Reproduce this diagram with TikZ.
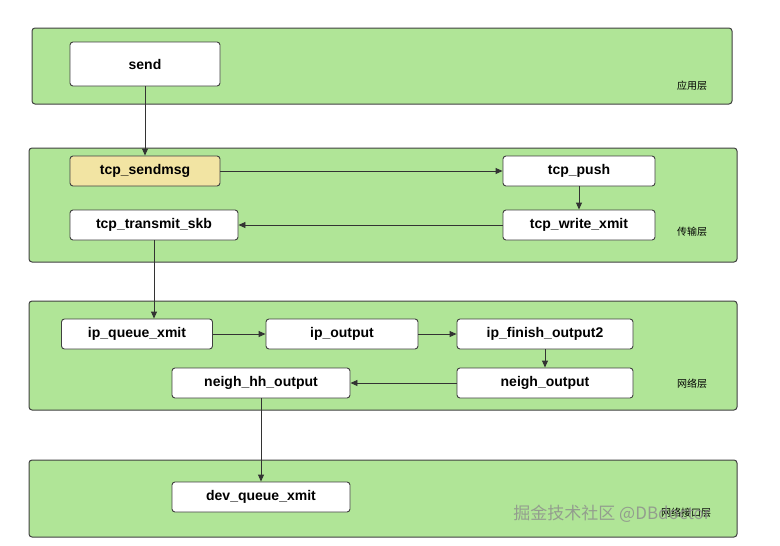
\documentclass[tikz,border=0pt]{standalone}
\usepackage{fontspec}
\setmainfont{Liberation Sans}
\newfontfamily\cjk{Noto Sans CJK SC}
\usetikzlibrary{arrows.meta}
\definecolor{layergreen}{HTML}{B0E597}
\definecolor{hiyellow}{HTML}{F2E4A3}
\begin{document}
\begin{tikzpicture}[x=1pt,y=-1pt,>={Triangle[length=7pt,width=6pt]},
                    layer/.style={draw=black!75,fill=layergreen,rounded corners=3pt,line width=1pt},
                    func/.style={draw=black!75,fill=white,rounded corners=3pt,line width=0.9pt,
                                 minimum height=30pt,font=\bfseries\fontsize{14}{16}\selectfont,inner sep=0pt},
                    tag/.style={font=\cjk\fontsize{10}{12}\selectfont},
                    flow/.style={->,draw=black!80,line width=0.9pt}]
  \useasboundingbox (0,0) rectangle (780,546);

  % layers
  \draw[layer] (32,28) rectangle (732,104);
  \draw[layer] (29,148) rectangle (737,262);
  \draw[layer] (29,301) rectangle (737,410);
  \draw[layer] (29,460) rectangle (737,537);
  \node[tag] (app)  at (692,86)  {应用层};
  \node[tag] (tran) at (692,232) {传输层};
  \node[tag] (net)  at (692,384) {网络层};
  \node[tag] (link) at (686,513) {网络接口层};

  % functions
  \node[func,minimum width=150pt,minimum height=44pt] (send) at (145,64) {send};
  \node[func,minimum width=150pt,fill=hiyellow] (sendmsg) at (145,171) {tcp\_sendmsg};
  \node[func,minimum width=152pt] (push)     at (579,171) {tcp\_push};
  \node[func,minimum width=152pt] (xmit)     at (579,225) {tcp\_write\_xmit};
  \node[func,minimum width=168pt] (transmit) at (154,225) {tcp\_transmit\_skb};
  \node[func,minimum width=151pt] (queue)    at (137,334) {ip\_queue\_xmit};
  \node[func,minimum width=152pt] (output)   at (342,334) {ip\_output};
  \node[func,minimum width=176pt] (finish)   at (545,334) {ip\_finish\_output2};
  \node[func,minimum width=176pt] (neigh)    at (545,383) {neigh\_output};
  \node[func,minimum width=178pt] (hh)       at (261,383) {neigh\_hh\_output};
  \node[func,minimum width=178pt] (dev)      at (261,497) {dev\_queue\_xmit};

  % calls
  \draw[flow] (send) -- (sendmsg);
  \draw[flow] (sendmsg) -- (push);
  \draw[flow] (push) -- (xmit);
  \draw[flow] (xmit) -- (transmit);
  \draw[flow] (transmit.south) -- (transmit.south |- queue.north);
  \draw[flow] (queue) -- (output);
  \draw[flow] (output) -- (finish);
  \draw[flow] (finish) -- (neigh);
  \draw[flow] (neigh) -- (hh);
  \draw[flow] (hh) -- (dev);

  % watermark
  \node[font=\cjk\fontsize{17}{19}\selectfont,text=black!45,opacity=0.8] (mark) at (612,514) {掘金技术社区 @DBdoctor};
\end{tikzpicture}
\end{document}
